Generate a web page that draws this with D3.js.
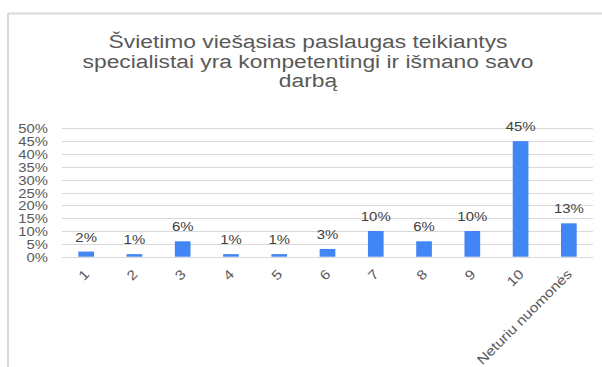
<!DOCTYPE html>
<html>
<head>
<meta charset="utf-8">
<script src="https://cdn.jsdelivr.net/npm/d3@7"></script>
<style>
  html, body { margin: 0; padding: 0; background: #fff; }
  svg { display: block; font-family: "Liberation Sans", Arial, sans-serif; }
</style>
</head>
<body>
<svg id="chart" width="602" height="367"></svg>
<script>
// Survey answers on a 1–10 scale plus "no opinion", share of respondents (%)
const categories = ["1", "2", "3", "4", "5", "6", "7", "8", "9", "10", "Neturiu nuomonės"];
const values = [2, 1, 6, 1, 1, 3, 10, 6, 10, 45, 13];
const yTicks = [0, 5, 10, 15, 20, 25, 30, 35, 40, 45, 50];
const titleLines = [
  "Švietimo viešąsias paslaugas teikiantys",
  "specialistai yra kompetentingi ir išmano savo",
  "darbą"
];

const svg = d3.select("#chart");
const textColor = "#595959";

// Outer frame (top and left edges visible)
svg.append("line").attr("x1", 8).attr("x2", 602).attr("y1", 13.5).attr("y2", 13.5)
  .attr("stroke", "#d9d9d9").attr("stroke-width", 2);
svg.append("line").attr("x1", 8).attr("x2", 8).attr("y1", 13).attr("y2", 367)
  .attr("stroke", "#d9d9d9").attr("stroke-width", 2);

// Title, in three centred lines
svg.append("g").selectAll("text").data(titleLines).join("text")
  .attr("transform", (d, i) => `translate(308,${48 + i * 19.7}) scale(1.2,1)`)
  .attr("text-anchor", "middle")
  .attr("font-size", 19)
  .attr("fill", textColor)
  .text(d => d);

const x = d3.scaleBand().domain(categories).range([62, 593])
  .paddingInner(0.675).paddingOuter(0.3375);
const y = d3.scaleLinear().domain([0, 50]).range([256.7, 128.3]);

// Horizontal gridlines
svg.append("g").selectAll("line").data(yTicks).join("line")
  .attr("x1", 62).attr("x2", 593)
  .attr("y1", d => Math.round(y(d)) + 0.5).attr("y2", d => Math.round(y(d)) + 0.5)
  .attr("stroke", "#d9d9d9").attr("stroke-width", 1);

// Y axis labels
const yAxis = d3.axisLeft(y).tickValues(yTicks).tickFormat(d => d + "%").tickSize(0);
const yg = svg.append("g").attr("transform", "translate(48,0)").call(yAxis);
yg.select(".domain").remove();
yg.selectAll(".tick text")
  .attr("x", 0).attr("dy", "0.35em")
  .attr("transform", "scale(1.14,1)")
  .attr("font-size", 13).attr("font-family", "Liberation Sans, Arial, sans-serif")
  .attr("fill", textColor);

// Bars
svg.append("g").selectAll("rect").data(values).join("rect")
  .attr("x", (d, i) => x(categories[i]))
  .attr("width", x.bandwidth())
  .attr("y", d => y(d))
  .attr("height", d => y(0) - y(d))
  .attr("fill", "#4285f4");

// Value labels above bars
svg.append("g").selectAll("text").data(values).join("text")
  .attr("transform", (d, i) => `translate(${x(categories[i]) + x.bandwidth() / 2},${y(d) - 10}) scale(1.15,1)`)
  .attr("text-anchor", "middle")
  .attr("font-size", 13)
  .attr("fill", "#404040")
  .text(d => d + "%");

// Rotated category labels
svg.append("g").selectAll("text").data(categories).join("text")
  .attr("transform", d => `translate(${x(d) + x.bandwidth() / 2 + 4},275) rotate(-45) scale(1.16,1)`)
  .attr("text-anchor", "end")
  .attr("font-size", 13.5)
  .attr("fill", textColor)
  .text(d => d);
</script>
</body>
</html>
